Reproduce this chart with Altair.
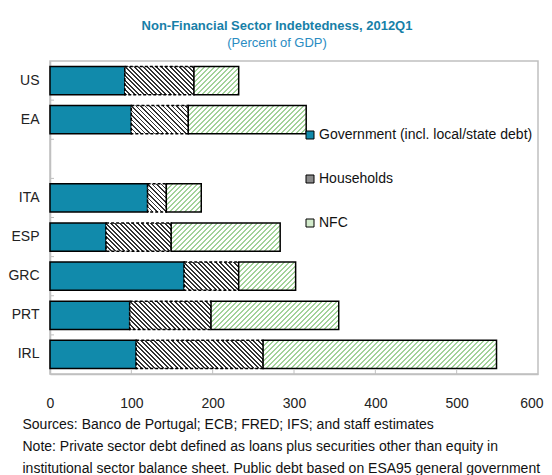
import altair as alt
import pandas as pd

# ---------------- data ----------------
countries = ["US", "EA", " ", "ITA", "ESP", "GRC", "PRT", "IRL"]
bar_countries = ["US", "EA", "ITA", "ESP", "GRC", "PRT", "IRL"]
sectors = ["Government (incl. local/state debt)", "Households", "NFC"]
government = [92, 100, 120, 69, 165, 98, 106]
households = [85, 70, 23, 80, 67, 100, 156]
nfc = [55, 145, 43, 134, 70, 157, 287]
x_ticks = [0, 100, 200, 300, 400, 500, 600]

footnote = [
    "Sources: Banco de Portugal; ECB; FRED;  IFS; and staff estimates",
    "Note:  Private sector debt defined as loans plus securities other than equity in",
    "institutional sector balance sheet. Public debt based on ESA95 general government",
]

rows = []
for i, c in enumerate(bar_countries):
    for k, (s, vals) in enumerate(zip(sectors, [government, households, nfc])):
        rows.append({"country": c, "sector": s, "value": vals[i], "order": k})
df = pd.DataFrame(rows)

# ---------------- style ----------------
FONT = "Liberation Sans, Arial, sans-serif"
W_PX, H_PX = 488, 313
BANDW = 28.15
GOV = "#118aab"
L = 520


def stops(color, bg, period, frac):
    parts = []
    n = int(L / period) + 1
    for i in range(n):
        a = i * period
        b = a + period * frac
        c = a + period
        for off, col in ((a, color), (b, color), (b, bg), (c, bg)):
            parts.append("{offset:%.5f,color:'%s'}" % (min(off / L, 1.0), col))
    return "[" + ",".join(parts) + "]"


W = "((datum.x1-datum.x0)*%.6f)" % (W_PX / 600)
D = "(%s*%s+%.3f)" % (W, W, BANDW * BANDW)
fwd = "{gradient:'linear',x1:0,y1:0,x2:%d*%s/%s,y2:%d*%.3f/%s,stops:%s}" % (
    L, W, D, L, BANDW, D, stops("#a3d39a", "#ffffff", 5.0, 0.42))
back = "{gradient:'linear',x1:0,y1:1,x2:%d*%s/%s,y2:1-%d*%.3f/%s,stops:%s}" % (
    L, W, D, L, BANDW, D, stops("#333333", "#ffffff", 4.5, 0.42))
grad_expr = "datum.sector=='%s' ? '%s' : (datum.sector=='Households' ? %s : %s)" % (
    sectors[0], GOV, back, fwd)

xscale = alt.Scale(domain=[0, 600], nice=False)
yscale = alt.Scale(domain=countries, paddingInner=0.28, paddingOuter=0.14)

x_enc = alt.X(
    "x0:Q",
    scale=xscale,
    axis=alt.Axis(
        values=x_ticks,
        ticks=False,
        grid=False,
        domainColor="#c0c0c0",
        domainWidth=1.5,
        labelFontSize=14,
        labelColor="#222222",
        labelPadding=22,
        labelFlush=False,
        labelOverlap=False,
        labelFont=FONT,
        labelAlign={"condition": {"test": "datum.value == 600", "value": "right"},
                    "value": "center"},
        labelOffset={"condition": {"test": "datum.value == 600", "value": 5},
                     "value": 0},
        title=footnote,
        titleFont=FONT,
        titleFontSize=14,
        titleFontWeight="normal",
        titleColor="#111111",
        titleAlign="left",
        titleAnchor="start",
        titleBaseline="alphabetic",
        titleX=-28,
        titleY=54,
        titleLineHeight=22,
    ),
)
y_enc = alt.Y(
    "country:N",
    scale=yscale,
    sort=countries,
    axis=alt.Axis(
        title=None,
        ticks=False,
        domainColor="#c0c0c0",
        domainWidth=1.5,
        labelFontSize=14,
        labelColor="#222222",
        labelPadding=11,
        labelFont=FONT,
    ),
)

base = alt.Chart(df).transform_stack(
    stack="value", groupby=["country"], as_=["x0", "x1"],
    sort=[alt.SortField("order", order="ascending")]
)

legend_layer = base.mark_bar().encode(
    x=x_enc,
    x2="x1:Q",
    y=y_enc,
    color=alt.Color(
        "sector:N",
        scale=alt.Scale(domain=sectors, range=[GOV, "#8a8a8a", "#d3ebcc"]),
        legend=alt.Legend(
            orient="none",
            legendX=253,
            legendY=67,
            title=None,
            symbolType="square",
            symbolSize=64,
            symbolStrokeColor="black",
            symbolStrokeWidth=1,
            labelFontSize=14,
            labelFont=FONT,
            labelColor="#111111",
            labelOffset=2,
            labelLimit=0,
            rowPadding=30,
        ),
    ),
)

pattern_layer = base.transform_calculate(grad=grad_expr).mark_bar(
    stroke="black", strokeWidth=1.5
).encode(
    x=x_enc,
    x2="x1:Q",
    y=y_enc,
    fill=alt.Fill("grad:N", scale=None, legend=None),
    strokeDash=alt.condition(
        "datum.sector == 'Households'", alt.value([3, 2]), alt.value([1, 0])
    ),
)

xtick_layer = alt.Chart(pd.DataFrame({"x0": x_ticks[1:-1]})).mark_rule(
    color="#c0c0c0", strokeWidth=1
).encode(
    x=alt.X("x0:Q", scale=xscale),
    y=alt.value(H_PX - 5),
    y2=alt.value(H_PX),
)

ytick_layer = alt.Chart(pd.DataFrame({"country": countries[1:]})).mark_rule(
    color="#c0c0c0", strokeWidth=1, yOffset=-19.55
).encode(
    y=alt.Y("country:N", scale=yscale, sort=countries),
    x=alt.value(0),
    x2=alt.value(4),
)

chart = (
    alt.layer(legend_layer, pattern_layer, xtick_layer, ytick_layer)
    .properties(
        width=W_PX,
        height=H_PX,
        autosize=alt.AutoSizeParams(type="none"),
        padding={"left": 42, "top": 53, "right": 6, "bottom": 101},
        title=alt.TitleParams(
            text="Non-Financial Sector Indebtedness, 2012Q1",
            subtitle="(Percent of GDP)",
            font=FONT,
            fontSize=13,
            fontWeight="bold",
            color="#1780a8",
            subtitleFont=FONT,
            subtitleFontSize=13,
            subtitleColor="#2a8cc2",
            subtitlePadding=4,
            anchor="middle",
            dx=-17,
            offset=11,
        ),
    )
    .configure_view(stroke="#c0c0c0", strokeWidth=1.5)
)

chart.save("out.html", embed_options={"renderer": "svg", "actions": False})
